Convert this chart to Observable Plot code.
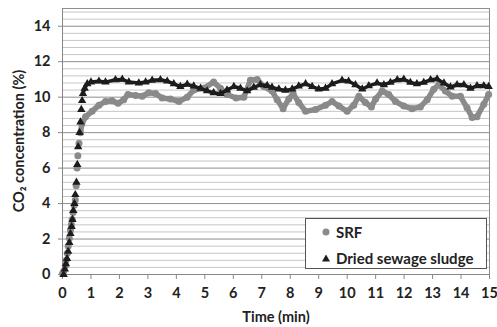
<!DOCTYPE html>
<html><head><meta charset="utf-8">
<script src="https://cdn.jsdelivr.net/npm/d3@7"></script>
<script src="https://cdn.jsdelivr.net/npm/@observablehq/plot@0.6"></script>
<style>
body{margin:0;background:#fff;}
#wrap{position:relative;width:497px;height:327px;font-family:Lato,"Open Sans",sans-serif;}
.legend{position:absolute;left:305px;top:218px;width:182px;height:51px;border:1px solid #555;background:#fff;box-sizing:border-box;font-weight:bold;font-size:15px;color:#222;}
.legend .row{position:absolute;left:0;display:flex;align-items:center;height:18px;}
.legend svg{margin-left:15px;margin-right:5px;}
.ytitle{position:absolute;left:18px;top:141px;transform:translate(-50%,-50%) rotate(-90deg);white-space:nowrap;font-weight:bold;font-size:14.5px;color:#222;}
</style></head><body><div id="wrap"></div>
<script>
const srfTime = [0,0.05,0.1,0.13,0.17,0.2,0.24,0.28,0.31,0.34,0.37,0.41,0.45,0.48,0.51,0.54,0.58,0.63,0.68,0.81,1.04,1.28,1.51,1.74,1.95,2.15,2.3,2.57,2.8,3.03,3.27,3.5,3.79,4.09,4.38,4.61,4.96,5.31,5.55,5.78,6.1,6.37,6.6,6.84,7.07,7.36,7.54,7.75,7.95,8.1,8.3,8.54,8.89,9.24,9.47,9.71,10.0,10.23,10.41,10.64,10.85,11.0,11.23,11.46,11.7,11.99,12.28,12.57,12.81,13.04,13.22,13.45,13.69,13.98,14.21,14.39,14.56,14.8,14.97];
const srfCO2 = [0.05,0.2,0.5,0.8,1.2,1.6,2.05,2.5,2.8,3.1,3.5,3.9,4.2,5.0,6.0,6.7,7.4,8.0,8.5,8.9,9.2,9.55,9.75,9.8,9.65,9.85,10.15,10.1,10.05,10.25,10.2,9.95,9.9,9.75,10.0,10.4,10.5,10.85,10.5,10.15,9.95,10.0,10.95,11.0,10.6,10.35,9.85,9.35,9.9,10.2,9.7,9.2,9.3,9.55,9.75,9.5,9.2,9.55,10.05,9.7,9.45,9.9,10.35,10.15,9.75,9.5,9.35,9.45,9.85,10.45,10.7,10.35,10.05,10.05,9.4,8.85,8.9,9.6,10.15];
const dssTime = [0.04,0.08,0.12,0.16,0.2,0.24,0.28,0.32,0.35,0.38,0.42,0.45,0.49,0.52,0.55,0.6,0.63,0.66,0.69,0.72,0.78,0.87,1.0,1.28,1.51,1.86,2.1,2.33,2.68,2.92,3.15,3.44,3.68,3.91,4.14,4.38,4.61,4.85,5.08,5.31,5.55,5.78,6.02,6.25,6.49,6.72,6.95,7.19,7.36,7.6,7.83,8.07,8.3,8.54,8.77,9.0,9.24,9.47,9.82,10.05,10.29,10.53,10.76,11.05,11.29,11.52,11.76,11.99,12.22,12.45,12.69,12.93,13.16,13.4,13.63,13.86,14.1,14.33,14.56,14.8,14.97];
const dssCO2 = [0,0.3,0.6,0.9,1.3,1.8,2.3,2.7,3.1,3.6,4.0,4.5,5.2,6.2,7.2,8.0,8.6,9.3,9.8,10.2,10.5,10.75,10.85,10.9,10.85,10.98,11.0,10.85,10.8,10.85,10.95,10.98,10.9,10.75,10.6,10.72,10.62,10.5,10.35,10.25,10.2,10.4,10.6,10.5,10.35,10.55,10.7,10.65,10.55,10.45,10.38,10.45,10.62,10.75,10.6,10.45,10.5,10.75,10.95,10.9,10.7,10.45,10.64,10.79,10.7,10.83,10.98,11.0,10.83,10.75,10.83,10.98,11.02,10.79,10.57,10.7,10.7,10.5,10.64,10.64,10.6];
const xTicks = [0,1,2,3,4,5,6,7,8,9,10,11,12,13,14,15];
const yTicks = [0,2,4,6,8,10,12,14];
const yMinor = [0.4,0.8,1.2,1.6,2.4,2.8,3.2,3.6,4.4,4.8,5.2,5.6,6.4,6.8,7.2,7.6,8.4,8.8,9.2,9.6,10.4,10.8,11.2,11.6,12.4,12.8,13.2,13.6,14.4,14.8];
const seriesNames = ["SRF","Dried sewage sludge"];
const xTitle = "Time (min)";
const yTitle = "CO\u2082 concentration (%)";

const srf = srfTime.map((t,i)=>({t, v:srfCO2[i]}));
const dss = dssTime.map((t,i)=>({t, v:dssCO2[i]}));
// sampling is dense on the plateau (markers merge into a band), sparse during the rise
const srfBand = srf.filter(d => d.t >= 0.63);
const dssBand = dss.filter(d => d.t >= 0.72);
const grey = "#8a8a8a", black = "#1c1c1c";

const chart = Plot.plot({
  width:497, height:327, marginLeft:62, marginRight:8, marginTop:8, marginBottom:53,
  style:{fontFamily:"Lato, 'Open Sans', sans-serif", fontSize:"14.5px", fontWeight:"bold", background:"#fff", color:"#222"},
  x:{domain:[0,15], label:null},
  y:{domain:[0,15], label:null},
  marks:[
    Plot.ruleY(yMinor,{stroke:"#c6c6c6", strokeWidth:1}),
    Plot.ruleY(yTicks.slice(1).concat([15]),{stroke:"#8e8e8e", strokeWidth:1}),
    Plot.ruleX([15],{stroke:"#8e8e8e"}),
    Plot.axisX({ticks:xTicks, tickSize:5, tickPadding:8, stroke:"#888", fill:"#222", label:null}),
    Plot.axisY({ticks:yTicks, tickSize:4, tickPadding:8, stroke:"#888", fill:"#222", label:null}),
    Plot.ruleY([0],{stroke:"#888"}),
    Plot.ruleX([0],{stroke:"#888"}),
    Plot.line(srfBand,{x:"t", y:"v", stroke:grey, strokeWidth:5.5}),
    Plot.dot(srf,{x:"t", y:"v", r:3.5, fill:grey}),
    Plot.line(dssBand,{x:"t", y:"v", stroke:black, strokeWidth:3.5}),
    Plot.dot(dss,{x:"t", y:"v", symbol:"triangle", r:3.1, fill:black}),
    Plot.text([xTitle],{frameAnchor:"bottom", dy:47, fontSize:14.5, fontWeight:"bold", fill:"#222"})
  ]
});
const wrap = document.getElementById("wrap");
wrap.appendChild(chart);
const yt = document.createElement("div");
yt.className = "ytitle";
yt.textContent = yTitle;
wrap.appendChild(yt);
const leg = document.createElement("div");
leg.className = "legend";
leg.innerHTML =
  `<div class="row" style="top:4px"><svg width="10" height="10"><circle cx="5" cy="5" r="3.5" fill="${grey}"/></svg>${seriesNames[0]}</div>` +
  `<div class="row" style="top:30px"><svg width="10" height="10"><path d="M5,1.5L9,8.5H1Z" fill="${black}"/></svg>${seriesNames[1]}</div>`;
wrap.appendChild(leg);
</script></body></html>
